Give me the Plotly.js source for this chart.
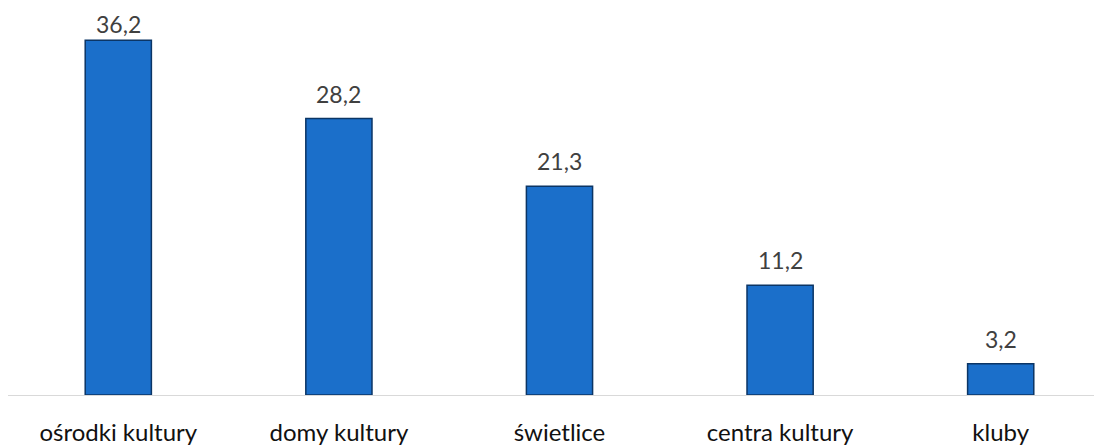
<!DOCTYPE html>
<html><head><meta charset="utf-8">
<script src="https://cdn.plot.ly/plotly-3.0.1.min.js"></script>
<style>html,body{margin:0;padding:0;background:#fff}#chart{width:1094px;height:445px}</style>
</head><body><div id="chart"></div>
<script>
const categories = ["ośrodki kultury", "domy kultury", "świetlice", "centra kultury", "kluby"];
const values = [36.2, 28.2, 21.3, 11.2, 3.2];

const H = 445, MB = 50, YMAX = 40.3;
const pxPerUnit = (H - MB) / YMAX;

const trace = {
  type: "bar",
  x: categories,
  y: values,
  marker: { color: "#1b6fca", line: { color: "#0b3565", width: 1.5 } },
  hoverinfo: "none"
};

const annotations = categories.map((c, i) => {
  const barTopPx = (YMAX - values[i]) * pxPerUnit;
  return {
    x: c, y: values[i], xref: "x", yref: "y",
    text: values[i].toFixed(1).replace(".", ","),
    showarrow: false, yanchor: "bottom",
    yshift: barTopPx > 60 ? 9 : 0,
    font: { family: "Lato, 'Open Sans', sans-serif", size: 23, color: "#404040" }
  };
});

const layout = {
  width: 1094, height: H,
  margin: { l: 8, r: 0, t: 0, b: MB },
  paper_bgcolor: "#fff", plot_bgcolor: "#fff",
  bargap: 0.7,
  showlegend: false,
  annotations: annotations,
  xaxis: {
    type: "category",
    range: [-0.5, 4.423],
    showline: true, linecolor: "#d9d9d9", linewidth: 1,
    ticks: "", showgrid: false, zeroline: false,
    tickfont: { family: "Lato, 'Open Sans', sans-serif", size: 24, color: "#111" },
    ticklabelstandoff: 16
  },
  yaxis: {
    range: [0, YMAX],
    visible: false, showgrid: false, zeroline: false
  }
};

Plotly.newPlot("chart", [trace], layout, { displayModeBar: false, staticPlot: true });
</script></body></html>
